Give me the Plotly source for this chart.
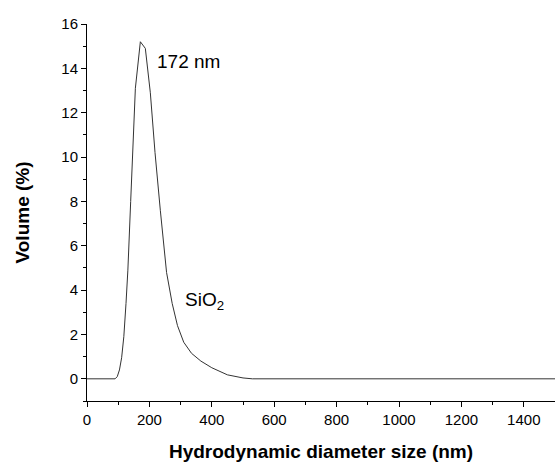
import plotly.graph_objects as go

# Hydrodynamic diameter (nm) and volume (%)
diameter_nm = [0, 90, 97, 104, 111, 118, 125, 131, 140, 148, 155, 171, 187, 203,
               218, 235, 255, 273, 290, 310, 335, 365, 400, 450, 500, 530, 1500]
volume_pct = [0, 0, 0.1, 0.4, 0.95, 1.9, 3.4, 4.9, 8.0, 10.6, 13.1, 15.2, 14.9, 12.9,
              10.2, 7.6, 4.8, 3.4, 2.4, 1.65, 1.15, 0.8, 0.5, 0.18, 0.04, 0, 0]

x_tick_vals = [0, 200, 400, 600, 800, 1000, 1200, 1400]
y_tick_vals = [0, 2, 4, 6, 8, 10, 12, 14, 16]

FONT = "Liberation Sans, Arial, Helvetica, sans-serif"

fig = go.Figure()
fig.add_trace(go.Scatter(
    x=diameter_nm, y=volume_pct, mode="lines",
    line=dict(color="#333333", width=1), showlegend=False, hoverinfo="skip"))

fig.add_annotation(x=219, y=14.3, text="172 nm", showarrow=False,
                   xanchor="left", yanchor="middle",
                   font=dict(family=FONT, size=19, color="black"))
fig.add_annotation(x=309, y=3.5, text="SiO<sub>2</sub>", showarrow=False,
                   xanchor="left", yanchor="middle",
                   font=dict(family=FONT, size=19, color="black"))

fig.update_layout(
    width=555, height=462,
    margin=dict(l=87, r=0, t=24, b=61),
    paper_bgcolor="white", plot_bgcolor="white",
    font=dict(family=FONT, color="black"),
)
fig.update_xaxes(
    range=[0, 1500], showgrid=False, zeroline=False,
    showline=True, linecolor="black", linewidth=1,
    ticks="outside", ticklen=5, tickwidth=1, tickcolor="black",
    tickvals=x_tick_vals, ticktext=[str(v) for v in x_tick_vals],
    tickfont=dict(family=FONT, size=15),
    minor=dict(dtick=100, tick0=0, ticks="outside", ticklen=3, tickcolor="black", showgrid=False),
    title=dict(text="<b>Hydrodynamic diameter size (nm)</b>",
               font=dict(family=FONT, size=19), standoff=17),
    automargin=False,
)
fig.update_yaxes(
    range=[-1, 16], showgrid=False, zeroline=False,
    showline=True, linecolor="black", linewidth=1,
    ticks="outside", ticklen=5, tickwidth=1, tickcolor="black",
    tickvals=y_tick_vals, ticktext=[str(v) for v in y_tick_vals],
    tickfont=dict(family=FONT, size=15),
    minor=dict(dtick=1, tick0=0, ticks="outside", ticklen=3, tickcolor="black", showgrid=False),
    title=dict(text="<b>Volume (%)</b>", font=dict(family=FONT, size=19), standoff=26),
    automargin=False,
)

fig.write_html("out.html")
